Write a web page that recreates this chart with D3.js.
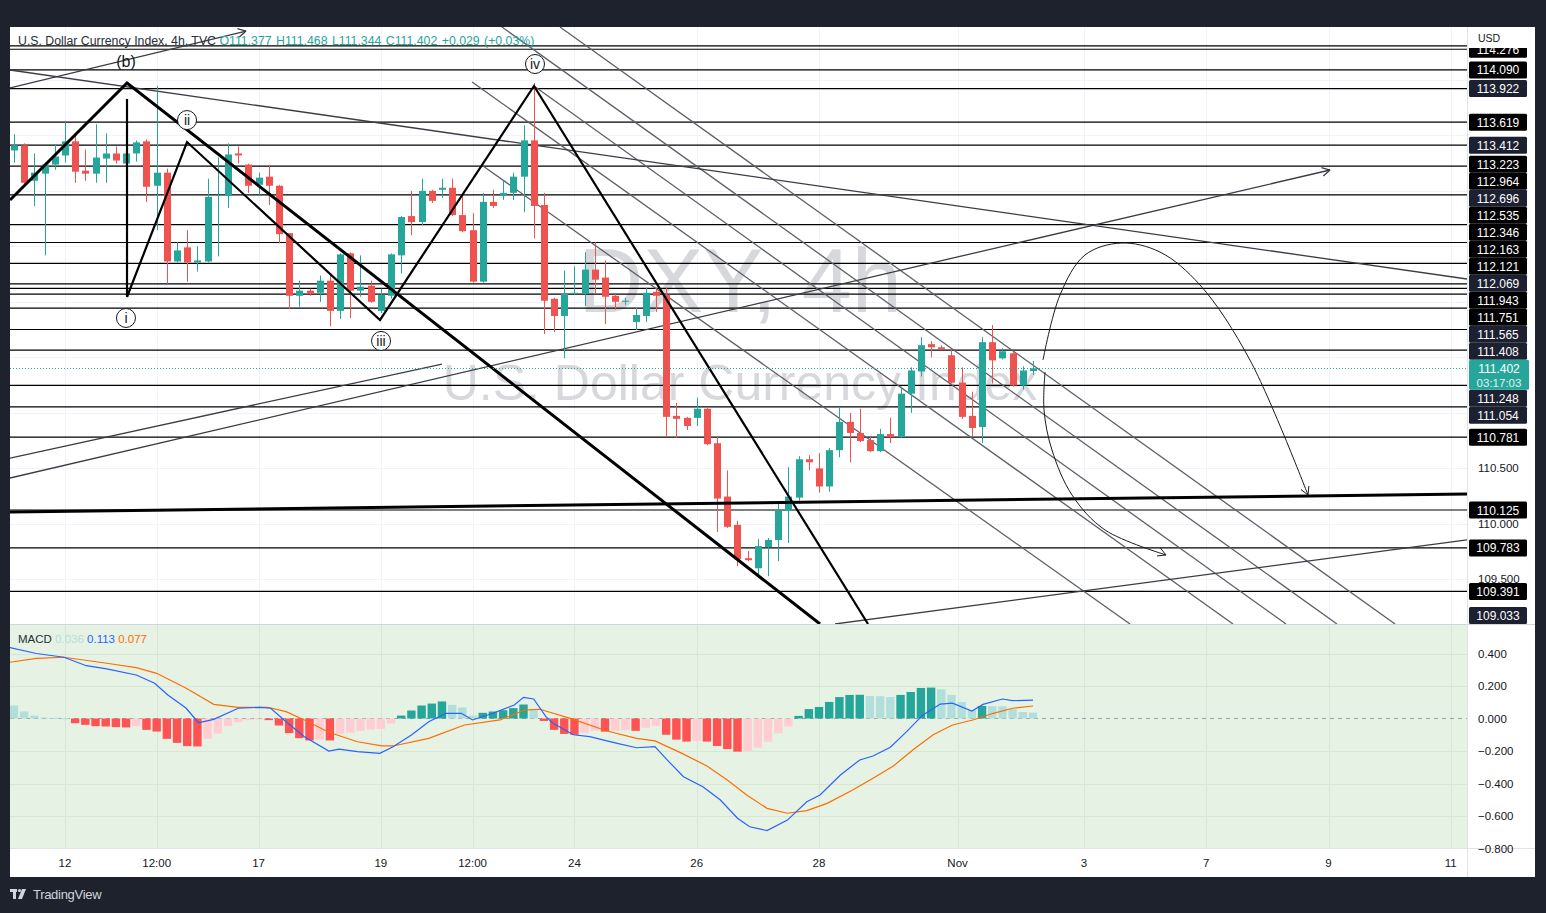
<!DOCTYPE html>
<html><head><meta charset="utf-8">
<script src="https://cdn.jsdelivr.net/npm/d3@7"></script>
<style>body{margin:0;background:#1e222d;overflow:hidden}svg{display:block;font-family:"Liberation Sans",Arial,sans-serif}</style>
</head><body><svg id="c" width="1546" height="913"></svg>
<script>
// ---------------- DATA ----------------
const openP=[113.364,113.410,113.091,113.155,113.237,113.319,113.446,113.182,113.155,113.291,113.337,113.246,113.337,113.446,113.046,113.164,112.364,112.491,112.355,112.364,112.955,112.955,113.337,113.237,113.055,113.128,113.046,112.619,112.055,112.101,112.082,112.191,111.919,112.437,112.101,112.146,111.919,112.055,112.419,112.773,112.719,113.000,113.010,113.028,112.782,112.646,112.182,112.901,112.955,112.982,113.128,113.455,112.873,112.028,111.873,112.073,112.073,112.291,112.219,112.055,112.001,111.819,111.873,112.091,112.064,110.973,110.955,110.955,111.037,110.727,110.246,109.991,109.691,109.600,109.791,109.855,110.119,110.237,110.582,110.500,110.337,110.664,110.919,110.819,110.755,110.655,110.809,110.782,111.173,111.373,111.619,111.591,111.519,111.273,110.973,110.873,111.637,111.491,111.537,111.246,111.377];
const highP=[113.510,113.428,113.337,113.255,113.419,113.619,113.510,113.373,113.600,113.519,113.400,113.346,113.455,113.464,113.946,113.200,112.537,112.646,112.500,113.110,113.300,113.428,113.400,113.246,113.164,113.228,113.055,112.619,112.191,112.119,112.237,112.237,112.437,112.446,112.419,112.191,112.119,112.437,112.773,113.000,113.110,113.010,113.110,113.110,112.964,112.800,112.982,113.010,113.091,113.164,113.591,113.973,112.982,112.037,112.282,112.319,112.446,112.537,112.373,112.073,112.037,111.946,112.128,112.128,112.128,111.091,110.964,111.137,111.046,110.782,110.482,110.028,109.755,109.864,109.873,110.191,110.510,110.610,110.618,110.637,110.682,111.055,111.000,111.037,110.782,110.855,110.955,111.237,111.410,111.682,111.646,111.609,111.573,111.410,111.191,111.682,111.791,111.582,111.546,111.419,111.468];
const lowP=[113.255,113.055,112.864,112.419,113.191,113.255,113.073,113.091,113.073,113.073,113.246,113.101,113.264,112.900,112.646,112.164,112.355,112.182,112.273,112.355,112.410,112.846,113.246,112.982,112.964,112.873,112.528,111.937,111.955,112.055,112.000,111.782,111.846,111.855,112.046,111.991,111.900,112.028,112.255,112.600,112.691,112.891,112.937,112.773,112.628,112.173,112.173,112.846,112.918,112.918,112.809,112.573,111.710,111.728,111.491,112.064,111.964,112.073,111.800,111.928,111.973,111.746,111.819,111.910,110.782,110.773,110.846,110.882,110.709,109.928,109.964,109.619,109.664,109.528,109.528,109.664,109.828,110.210,110.482,110.282,110.291,110.600,110.555,110.737,110.646,110.646,110.728,110.773,111.000,111.328,111.500,111.564,111.264,110.946,110.791,110.728,111.264,111.482,111.237,111.210,111.344];
const closeP=[113.410,113.073,113.164,113.237,113.310,113.446,113.173,113.155,113.300,113.337,113.273,113.337,113.437,113.037,113.164,112.364,112.464,112.355,112.373,112.946,112.964,113.328,113.319,113.046,113.119,113.046,112.610,112.055,112.101,112.073,112.191,111.919,112.428,112.101,112.137,112.001,112.064,112.428,112.764,112.719,113.000,112.910,113.028,112.782,112.637,112.182,112.901,112.864,112.982,113.128,113.455,112.864,112.010,111.873,112.073,112.082,112.291,112.200,112.046,112.001,112.010,111.882,112.082,112.055,110.964,110.946,110.882,111.037,110.718,110.228,109.973,109.682,109.673,109.800,109.855,110.119,110.246,110.582,110.555,110.337,110.664,110.919,110.819,110.746,110.655,110.809,110.782,111.173,111.382,111.610,111.591,111.573,111.273,110.964,110.864,111.637,111.473,111.555,111.246,111.382,111.402];

const histVals=[0.080,0.043,0.018,0.006,0.004,0.002,-0.029,-0.039,-0.047,-0.049,-0.053,-0.055,-0.047,-0.070,-0.080,-0.125,-0.150,-0.170,-0.172,-0.125,-0.094,-0.047,-0.023,-0.010,-0.006,-0.010,-0.043,-0.090,-0.121,-0.135,-0.129,-0.135,-0.094,-0.088,-0.076,-0.068,-0.064,-0.031,0.018,0.049,0.080,0.092,0.105,0.084,0.068,0.018,0.035,0.043,0.051,0.064,0.086,0.059,-0.015,-0.070,-0.095,-0.100,-0.088,-0.075,-0.081,-0.075,-0.072,-0.076,-0.057,-0.045,-0.100,-0.130,-0.142,-0.137,-0.142,-0.169,-0.188,-0.204,-0.200,-0.180,-0.143,-0.091,-0.050,0.016,0.058,0.071,0.102,0.132,0.145,0.146,0.138,0.137,0.132,0.145,0.163,0.188,0.190,0.180,0.145,0.102,0.052,0.077,0.076,0.075,0.058,0.040,0.036];

const macdIdx=[-0.4,2.2,4.9,7.1,9.1,12.0,13.8,15.1,16.9,18.1,19.6,22.0,24.2,25.2,26.7,28.5,30.9,31.9,33.7,35.9,37.2,39.0,40.7,42.4,43.9,45.0,47.0,49.1,50.0,51.0,52.2,52.9,54.9,56.5,59.2,61.1,62.9,64.1,65.7,67.6,69.3,71.0,72.2,73.9,75.9,77.8,79.1,81.1,83.0,84.3,86.0,87.6,89.2,90.9,92.1,94.0,95.1,97.0,98.0,100];
const macdVals=[0.436,0.400,0.377,0.325,0.305,0.268,0.217,0.145,0.063,-0.026,-0.005,0.063,0.069,0.063,-0.020,-0.112,-0.200,-0.188,-0.204,-0.214,-0.174,-0.102,-0.020,0.032,0.032,-0.009,0.032,0.083,0.130,0.120,0.011,-0.030,-0.100,-0.112,-0.153,-0.180,-0.173,-0.255,-0.358,-0.420,-0.500,-0.614,-0.666,-0.690,-0.625,-0.512,-0.471,-0.348,-0.255,-0.231,-0.177,-0.081,0.022,0.089,0.094,0.046,0.087,0.120,0.110,0.113];
const signalIdx=[-0.4,2.2,4.9,9.1,12.0,14.0,16.9,19.6,22.0,24.9,26.7,28.5,30.9,33.7,36.1,37.2,40.7,44.2,47.7,50.1,51.6,54.6,58.2,61.1,62.9,65.4,68.0,70.0,71.9,73.9,75.9,77.8,79.8,82.3,84.3,86.3,88.2,90.2,92.1,94.1,96.1,98.0,100];
const signalVals=[0.346,0.370,0.377,0.340,0.313,0.278,0.186,0.087,0.069,0.069,0.042,-0.009,-0.085,-0.143,-0.169,-0.169,-0.122,-0.040,-0.009,0.052,0.057,0.001,-0.077,-0.122,-0.138,-0.210,-0.292,-0.378,-0.471,-0.553,-0.583,-0.567,-0.522,-0.440,-0.368,-0.292,-0.194,-0.100,-0.040,-0.009,0.032,0.063,0.077];

const levelPrices=[114.306,114.276,114.090,113.922,113.619,113.412,113.223,112.964,112.696,112.535,112.346,112.163,112.121,112.069,111.943,111.751,111.565,111.408,111.248,111.054,110.781,110.125,109.783,109.391,109.033];
const levelNavy=[113.922,113.412,112.696,112.069,111.565,111.408,111.248,111.054,109.033];
const levelNoLine=[111.408];

const xTickIdx=[5,14,24,36,45,55,67,79,92.6,105,117,129,141];
const xTickLabels=["12","12:00","17","19","12:00","24","26","28","Nov","3","7","9","11"];
const priceTicks=[109.5,110.0,110.5,111.0,111.5,112.0,112.5,113.0,113.5,114.0];
const macdTicks=[0.4,0.2,0,-0.2,-0.4,-0.6,-0.8];

// drawings in (bar index, price)
const heavyLines=[[[-0.39,112.918],[11.09,113.972],[79.10,109.098]],[[-0.39,110.107],[142.59,110.269]]];
const waveLines=[[[11.09,113.828],[11.09,112.044]],[[11.09,112.044],[16.98,113.440],[35.92,111.837],[51.03,113.945],[83.81,109.098]]];
const thinLines=[[[-0.39,114.089],[142.59,112.206]],[[-0.39,110.593],[42.0,111.440]],[[80.57,109.098],[142.59,109.855]]];
const arrowLines=[[[-0.39,113.927],[22.77,114.440]],[[-0.39,110.413],[129.15,113.188]]];
const channelLines=[[[46.03,113.224],[109.52,109.098]],[[44.95,113.981],[119.63,109.098]],[[51.03,113.945],[124.83,109.098]],[[47.89,114.476],[129.83,109.098]],[[53.58,114.476],[135.53,109.098]]];
const arcUp=[[100.98,111.476],[102.65,112.062],[105.10,112.422],[108.64,112.530],[112.46,112.449],[116.39,112.152],[121.29,111.476],[126.99,110.260]];
const arcDown=[[101.18,111.368],[101.08,111.026],[101.86,110.666],[103.83,110.260],[107.07,109.945],[113.05,109.720]];
const waveLabelText=["(b)","ii","i","iii","iv"];
const waveLabelIdx=[10.99,16.98,10.99,36.02,51.13];
const waveLabelPrice=[114.161,113.638,111.855,111.648,114.143];

// ---------------- LAYOUT ----------------
const L=10, R=1467, PT=27, PB=624, MT=625, MB=848, XB=877;
const svg=d3.select("#c");
const x=d3.scaleLinear().domain([0,100]).range([14,1033]);
const y=d3.scaleLinear().domain([110.125-(PB-510)/111,110.125+(510-PT)/111]).range([PB,PT]);
const ym=d3.scaleLinear().domain([-(MB-718.5)/162.5,(718.5-MT)/162.5]).range([MB,MT]);

// frame
svg.append("rect").attr("width",1546).attr("height",913).attr("fill","#1e222d");
svg.append("rect").attr("x",L).attr("y",PT).attr("width",1535-L).attr("height",XB-PT).attr("fill","#fff");
svg.append("rect").attr("x",L).attr("y",MT).attr("width",R-L).attr("height",MB-MT).attr("fill","#e6f3e4");

const defs=svg.append("defs");
defs.append("clipPath").attr("id","cp").append("rect").attr("x",L).attr("y",PT).attr("width",R-L).attr("height",PB-PT);
defs.append("clipPath").attr("id","cm").append("rect").attr("x",L).attr("y",MT).attr("width",R-L).attr("height",MB-MT);
defs.append("clipPath").attr("id","ca").append("rect").attr("x",R).attr("y",PT+21).attr("width",1535-R).attr("height",PB-PT-21);

// grids
const gP=svg.append("g").attr("clip-path","url(#cp)");
gP.selectAll(".hg").data(priceTicks).join("line").attr("x1",L).attr("x2",R).attr("y1",d=>Math.round(y(d))+0.5).attr("y2",d=>Math.round(y(d))+0.5).attr("stroke","#f0f3fa");
gP.selectAll(".vg").data(xTickIdx).join("line").attr("x1",d=>Math.round(x(d))+0.5).attr("x2",d=>Math.round(x(d))+0.5).attr("y1",PT).attr("y2",PB).attr("stroke","#f0f3fa");
const gM=svg.append("g").attr("clip-path","url(#cm)");
gM.selectAll(".hg").data(macdTicks.filter(d=>d!==0)).join("line").attr("x1",L).attr("x2",R).attr("y1",d=>Math.round(ym(d))+0.5).attr("y2",d=>Math.round(ym(d))+0.5).attr("stroke","#d6e8d4");
gM.selectAll(".vg").data(xTickIdx).join("line").attr("x1",d=>Math.round(x(d))+0.5).attr("x2",d=>Math.round(x(d))+0.5).attr("y1",MT).attr("y2",MB).attr("stroke","#d6e8d4");

// watermark
gP.append("text").attr("x",740).attr("y",312).attr("text-anchor","middle").attr("font-size",90).attr("fill","#d7d8dc").text("DXY, 4h");
gP.append("text").attr("x",740).attr("y",400).attr("text-anchor","middle").attr("font-size",50).attr("fill","#d7d8dc").text("U.S. Dollar Currency Index");

// horizontal levels
gP.selectAll(".lvl").data(levelPrices.filter(p=>!levelNoLine.includes(p))).join("line")
  .attr("x1",L).attr("x2",R).attr("y1",d=>y(d)).attr("y2",d=>y(d)).attr("stroke","#000").attr("stroke-width",1.2);

const lineGen=d3.line().x(d=>x(d[0])).y(d=>y(d[1]));
gP.selectAll(".ch").data(channelLines).join("path").attr("d",lineGen).attr("fill","none").attr("stroke","#5d6068").attr("stroke-width",1.3);
gP.selectAll(".tl").data(thinLines).join("path").attr("d",lineGen).attr("fill","none").attr("stroke","#3a3d44").attr("stroke-width",1.3);
gP.selectAll(".al").data(arrowLines).join("path").attr("d",lineGen).attr("fill","none").attr("stroke","#3a3d44").attr("stroke-width",1.3);

function arrowHead(g,pts,color,w){
  const a=pts[pts.length-2], b=pts[pts.length-1];
  const x1=x(a[0]),y1=y(a[1]),x2=x(b[0]),y2=y(b[1]);
  const ang=Math.atan2(y2-y1,x2-x1), len=9;
  [-0.5,0.5].forEach(s=>{
    g.append("line").attr("x1",x2).attr("y1",y2)
      .attr("x2",x2-len*Math.cos(ang+s)).attr("y2",y2-len*Math.sin(ang+s))
      .attr("stroke",color).attr("stroke-width",w);
  });
}
arrowLines.forEach(p=>arrowHead(gP,p,"#3a3d44",1.3));

// candles
const idx=d3.range(openP.length);
const up="#26a69a", dn="#ef5350";
const cg=gP.append("g");
cg.selectAll(".wk").data(idx).join("line")
  .attr("x1",i=>Math.round(x(i))+0.5).attr("x2",i=>Math.round(x(i))+0.5)
  .attr("y1",i=>y(highP[i])).attr("y2",i=>y(lowP[i]))
  .attr("stroke",i=>closeP[i]>=openP[i]?up:dn).attr("stroke-width",1);
cg.selectAll(".bd").data(idx).join("rect")
  .attr("x",i=>Math.round(x(i))-3).attr("width",7)
  .attr("y",i=>y(Math.max(openP[i],closeP[i])))
  .attr("height",i=>Math.max(1,Math.abs(y(openP[i])-y(closeP[i]))))
  .attr("fill",i=>closeP[i]>=openP[i]?up:dn);

// wave drawings
gP.selectAll(".hv").data(heavyLines).join("path").attr("d",lineGen).attr("fill","none").attr("stroke","#000").attr("stroke-width",3);
gP.selectAll(".wv").data(waveLines).join("path").attr("d",lineGen).attr("fill","none").attr("stroke","#000").attr("stroke-width",2.2);

// arcs
const curveGen=d3.line().x(d=>x(d[0])).y(d=>y(d[1])).curve(d3.curveCatmullRom.alpha(0.5));
[arcUp,arcDown].forEach(a=>{
  gP.append("path").attr("d",curveGen(a)).attr("fill","none").attr("stroke","#1a1a1a").attr("stroke-width",1);
  arrowHead(gP,a,"#1a1a1a",1);
});

// wave labels
waveLabelText.forEach((t,k)=>{
  const cx=x(waveLabelIdx[k]), cy=y(waveLabelPrice[k]);
  if(t!=="(b)") gP.append("circle").attr("cx",cx).attr("cy",cy).attr("r",9.5).attr("fill","#fff").attr("stroke","#131722").attr("stroke-width",1);
  gP.append("text").attr("x",cx).attr("y",cy+5).attr("text-anchor","middle").attr("font-size",t==="(b)"?16:14).attr("fill","#131722").text(t);
});

// current price dotted line
const lastClose=closeP[closeP.length-1];
gP.append("line").attr("x1",L).attr("x2",R).attr("y1",Math.round(y(lastClose))+0.5).attr("y2",Math.round(y(lastClose))+0.5)
  .attr("stroke",up).attr("stroke-dasharray","1,2").attr("stroke-width",1);

// header
const hdr=svg.append("text").attr("x",18).attr("y",45).attr("font-size",12.3);
hdr.append("tspan").attr("fill","#2a2e39").text("U.S. Dollar Currency Index, 4h, TVC ");
hdr.append("tspan").attr("fill",up).attr("word-spacing",1).text(`O${openP[100].toFixed(3)}  H${highP[100].toFixed(3)}  L${lowP[100].toFixed(3)}  C${lastClose.toFixed(3)}  +0.029 (+0.03%)`);

// MACD pane
gM.append("line").attr("x1",L).attr("x2",R).attr("y1",ym(0)).attr("y2",ym(0)).attr("stroke","#9a9ea8").attr("stroke-dasharray","4,4");
const hcol=(v,i)=>v>=0?((i>0&&v>histVals[i-1])?"#26a69a":"#b2dfdb"):((i>0&&v<histVals[i-1])?"#ff5252":"#ffcdd2");
gM.selectAll(".hb").data(idx).join("rect")
  .attr("x",i=>x(i)-4.2).attr("width",8.4)
  .attr("y",i=>Math.min(ym(0),ym(histVals[i])))
  .attr("height",i=>Math.max(1,Math.abs(ym(histVals[i])-ym(0))))
  .attr("fill",(i)=>hcol(histVals[i],i));
const mline=d3.line().x(d=>x(d[0])).y(d=>ym(d[1]));
gM.append("path").attr("d",mline(signalIdx.map((v,k)=>[v,signalVals[k]]))).attr("fill","none").attr("stroke","#ff6d00").attr("stroke-width",1.2);
gM.append("path").attr("d",mline(macdIdx.map((v,k)=>[v,macdVals[k]]))).attr("fill","none").attr("stroke","#2962ff").attr("stroke-width",1.2);
const leg=svg.append("text").attr("x",18).attr("y",643).attr("font-size",11.5);
leg.append("tspan").attr("fill","#2a2e39").text("MACD ");
leg.append("tspan").attr("fill","#b2dfdb").text(" "+histVals[100].toFixed(3)+" ");
leg.append("tspan").attr("fill","#2962ff").text(" "+macdVals[macdVals.length-1].toFixed(3)+" ");
leg.append("tspan").attr("fill","#ff6d00").text(" "+signalVals[signalVals.length-1].toFixed(3));

// separators
svg.append("line").attr("x1",L).attr("x2",1535).attr("y1",624.5).attr("y2",624.5).attr("stroke","#d1d4dc");
svg.append("line").attr("x1",L).attr("x2",1535).attr("y1",848.5).attr("y2",848.5).attr("stroke","#e0e3eb");
svg.append("line").attr("x1",R+0.5).attr("x2",R+0.5).attr("y1",PT).attr("y2",XB).attr("stroke","#e0e3eb");

// MACD axis labels
svg.selectAll(".mt").data(macdTicks).join("text").attr("x",1478).attr("y",d=>ym(d)+4).attr("font-size",11.5).attr("fill","#131722")
  .text(d=>(d<0?"\u2212":"")+Math.abs(d).toFixed(3));

// x axis labels
svg.selectAll(".xt").data(xTickIdx).join("text").attr("x",d=>x(d)).attr("y",867).attr("text-anchor","middle").attr("font-size",11.5).attr("fill","#131722")
  .text((d,k)=>xTickLabels[k]);

// level labels with collision handling around current price label
const curY=y(lastClose), curTop=curY-8.5, curBot=curY+21.5;
const lv=levelPrices.map(p=>({p,ty:y(p)}));
let edge=curTop;
lv.filter(d=>d.ty<=curY).sort((a,b)=>b.ty-a.ty).forEach(d=>{d.cy=Math.min(d.ty,edge-8.5);edge=d.cy-8.5;});
edge=curBot;
lv.filter(d=>d.ty>curY).sort((a,b)=>a.ty-b.ty).forEach(d=>{d.cy=Math.max(d.ty,edge+8.5);edge=d.cy+8.5;});
lv.forEach(d=>{d.cy=Math.min(d.cy,PB-8.5);});
const visLv=lv.filter(d=>d.cy>PT+18);

// price axis tick labels (only where not covered by a level label)
const covered=t=>lv.some(d=>Math.abs(d.cy-y(t))<11.5)||(y(t)>curTop-3&&y(t)<curBot+3)||y(t)<PT+22;
svg.selectAll(".pt").data(priceTicks.filter(t=>!covered(t))).join("text").attr("x",1478).attr("y",d=>y(d)+4).attr("font-size",11.5).attr("fill","#131722").text(d=>d.toFixed(3));

const lg=svg.append("g").attr("clip-path","url(#ca)");
visLv.forEach(d=>{
  lg.append("rect").attr("x",1469).attr("y",d.cy-8.5).attr("width",58).attr("height",17).attr("rx",1.5)
    .attr("fill",levelNavy.includes(d.p)?"#1c2030":"#000");
  lg.append("text").attr("x",1498).attr("y",d.cy+4.5).attr("text-anchor","middle").attr("font-size",12).attr("fill","#fff").text(d.p.toFixed(3));
});
lg.append("rect").attr("x",1469).attr("y",curTop).attr("width",60).attr("height",30).attr("rx",1.5).attr("fill",up);
lg.append("text").attr("x",1499).attr("y",curY+4.5).attr("text-anchor","middle").attr("font-size",12).attr("fill","#fff").text(lastClose.toFixed(3));
lg.append("text").attr("x",1499).attr("y",curY+18.5).attr("text-anchor","middle").attr("font-size",11.5).attr("fill","#e0f2f1").text("03:17:03");

// USD header
svg.append("text").attr("x",1478).attr("y",42).attr("font-size",10.5).attr("fill","#131722").text("USD");

// logo
const lgo=svg.append("g");
lgo.append("rect").attr("x",10).attr("y",889).attr("width",7).attr("height",3).attr("fill","#d1d4dc");
lgo.append("rect").attr("x",13).attr("y",889).attr("width",3).attr("height",10).attr("fill","#d1d4dc");
lgo.append("circle").attr("cx",19.5).attr("cy",890.5).attr("r",1.6).attr("fill","#d1d4dc");
lgo.append("path").attr("d","M22,889 L26,889 L22,899 L18,899 Z").attr("fill","#d1d4dc");
svg.append("text").attr("x",33).attr("y",899).attr("font-size",13).attr("fill","#d1d4dc").attr("letter-spacing",-0.3).text("TradingView");
</script></body></html>
